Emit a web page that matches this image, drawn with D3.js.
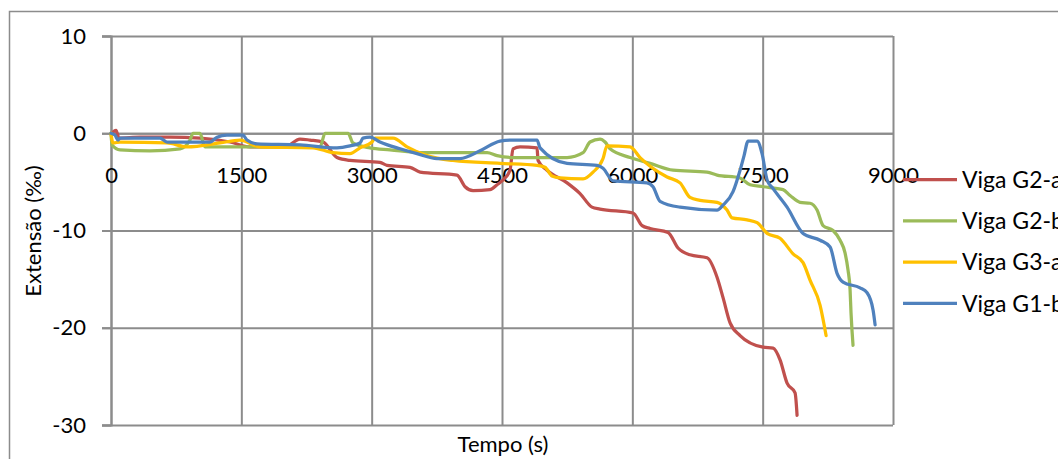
<!DOCTYPE html>
<html>
<head>
<meta charset="utf-8">
<script src="https://cdn.jsdelivr.net/npm/d3@7"></script>
<style>
  html, body { margin: 0; padding: 0; background: #fff; }
  svg { display: block; font-family: Lato, "Open Sans", sans-serif; }
</style>
</head>
<body>
<svg id="chart" width="1058" height="459"></svg>
<script>
// ---- Data (time in s, strain in ‰) ----
const seriesNames = ["Viga G2-a", "Viga G2-b", "Viga G3-a", "Viga G1-b"];
const seriesColors = ["#C0504D", "#9BBB59", "#FFC000", "#4F81BD"];

const xTicks = [0, 1500, 3000, 4500, 6000, 7500, 9000];
const yTicks = [-30, -20, -10, 0, 10];

const g2aTime = [0, 58, 92, 334, 679, 1024, 1370, 1600, 2003, 2175, 2290, 2440, 2601, 2751, 3096, 3177, 3441, 3557, 3982, 4075, 4167, 4362, 4443, 4512, 4592, 4627, 4708, 4903, 4915, 5018, 5249, 5398, 5536, 5628, 6008, 6112, 6204, 6411, 6526, 6664, 6860, 6975, 7044, 7125, 7240, 7504, 7620, 7700, 7781, 7873, 7896];
const g2aStrain = [-0.1, 0.3, -0.5, -0.4, -0.4, -0.5, -0.9, -1.4, -1.4, -0.6, -0.7, -0.9, -2.5, -2.8, -3.0, -3.3, -3.5, -4.0, -4.3, -5.5, -5.9, -5.8, -5.3, -4.8, -3.8, -1.6, -1.4, -1.5, -2.8, -3.8, -5.1, -6.2, -7.6, -7.8, -8.2, -9.5, -9.8, -10.2, -11.8, -12.5, -12.8, -14.8, -16.9, -19.5, -20.8, -22.0, -22.1, -23.3, -25.7, -26.7, -29.0];

const g2bTime = [0, 12, 104, 449, 794, 909, 944, 1024, 1082, 1485, 2406, 2463, 2728, 2785, 2981, 3211, 3591, 4098, 4328, 4443, 4627, 5249, 5433, 5513, 5628, 5686, 5744, 5974, 6204, 6469, 6860, 6975, 7240, 7355, 7505, 7735, 7815, 7930, 8045, 8126, 8195, 8310, 8391, 8448, 8483, 8506, 8517, 8540];
const g2bStrain = [0, -1.2, -1.7, -1.8, -1.6, -0.7, 0, 0, -1.4, -1.4, -1.4, 0, 0, -1.0, -1.5, -1.7, -2.0, -2.0, -2.0, -2.3, -2.5, -2.5, -2.0, -0.9, -0.6, -0.9, -1.6, -2.5, -3.1, -3.8, -4.0, -4.3, -4.6, -5.3, -5.5, -5.8, -6.4, -7.1, -7.2, -7.9, -9.5, -10.0, -11.0, -12.3, -14.1, -16.1, -18.5, -21.8];

const g3aTime = [0, 23, 104, 645, 875, 1255, 1485, 1715, 2325, 2555, 2751, 2866, 3004, 3039, 3246, 3407, 3637, 3936, 4477, 4903, 4995, 5076, 5168, 5433, 5548, 5663, 5709, 5974, 6089, 6400, 6549, 6664, 6779, 6975, 7090, 7148, 7321, 7436, 7551, 7700, 7850, 7965, 8045, 8161, 8230];
const g3aStrain = [0, -1.0, -0.9, -1.0, -1.4, -1.0, -0.7, -1.4, -1.5, -2.0, -2.1, -1.5, -0.9, -0.5, -0.5, -1.4, -2.3, -2.8, -3.1, -3.3, -3.5, -4.4, -4.6, -4.7, -4.0, -2.6, -1.3, -1.4, -2.5, -4.5, -5.1, -6.6, -6.9, -7.1, -7.9, -8.7, -8.9, -9.2, -10.3, -10.8, -12.4, -13.3, -15.1, -17.7, -20.8];

const g1bTime = [0, 46, 81, 104, 564, 645, 1140, 1220, 1335, 1519, 1565, 1680, 2175, 2601, 2751, 2866, 2900, 2981, 3096, 3326, 3522, 3752, 4017, 4247, 4477, 4592, 4903, 4938, 5249, 5594, 5663, 5778, 6169, 6238, 6319, 6549, 6975, 7044, 7159, 7240, 7286, 7332, 7436, 7493, 7551, 7620, 7781, 7965, 8161, 8276, 8356, 8425, 8621, 8702, 8771, 8794];
const g1bStrain = [0, -0.2, -0.7, -0.5, -0.5, -0.9, -0.9, -0.4, -0.2, -0.2, -0.7, -1.1, -1.2, -1.5, -1.3, -1.0, -0.5, -0.4, -0.9, -1.6, -2.1, -2.6, -2.6, -1.8, -0.8, -0.7, -0.7, -1.5, -3.1, -3.3, -3.6, -4.9, -5.1, -5.5, -7.0, -7.6, -7.9, -7.4, -6.0, -3.8, -2.3, -0.8, -0.8, -2.1, -4.8, -5.7, -7.6, -10.3, -11.0, -11.7, -14.4, -15.3, -15.9, -16.4, -18.2, -19.7];

const seriesTimes = [g2aTime, g2bTime, g3aTime, g1bTime];
const seriesStrains = [g2aStrain, g2bStrain, g3aStrain, g1bStrain];

// ---- Layout ----
const svg = d3.select("#chart");
const plotLeft = 111, plotRight = 893, plotTop = 36, plotBottom = 425;
const x = d3.scaleLinear().domain([0, 9000]).range([plotLeft, plotRight]);
const y = d3.scaleLinear().domain([-30, 10]).range([plotBottom, plotTop]);
const gridColor = "#8c8c8c";
const numFmt = d => String(d);

// outer chart border
svg.append("rect")
  .attr("x", 9.5).attr("y", 11.5)
  .attr("width", 1200).attr("height", 600)
  .attr("fill", "none").attr("stroke", "#8c8c8c").attr("stroke-width", 1.5);

// vertical gridlines
const vg = svg.append("g").attr("transform", `translate(0,${plotBottom})`)
  .call(d3.axisBottom(x).tickValues(xTicks).tickSize(-(plotBottom - plotTop)).tickFormat(""));
vg.select(".domain").remove();
vg.selectAll(".tick line").attr("stroke", gridColor).attr("stroke-width", 2);

// horizontal gridlines
const hg = svg.append("g").attr("transform", `translate(${plotRight},0)`)
  .call(d3.axisLeft(y).tickValues(yTicks).tickSize(plotRight - plotLeft + 9).tickFormat(""));
hg.select(".domain").remove();
hg.selectAll(".tick line").attr("stroke", gridColor).attr("stroke-width", 2);

// y axis labels
const ya = svg.append("g").attr("transform", `translate(${plotLeft},0)`)
  .call(d3.axisLeft(y).tickValues(yTicks).tickSize(9).tickPadding(16).tickFormat(numFmt));
ya.select(".domain").attr("stroke", gridColor).attr("stroke-width", 2);
ya.selectAll(".tick line").attr("stroke", gridColor).attr("stroke-width", 2);
ya.selectAll(".tick text").attr("font-size", 22).attr("fill", "#000")
  .attr("font-family", "Lato, sans-serif");

// x axis at y = 0
const xa = svg.append("g").attr("transform", `translate(0,${y(0)})`)
  .call(d3.axisBottom(x).tickValues(xTicks).tickSize(0).tickPadding(34).tickFormat(numFmt));
xa.select(".domain").attr("stroke", gridColor).attr("stroke-width", 2);
xa.selectAll(".tick text").attr("font-size", 22).attr("fill", "#000")
  .attr("font-family", "Lato, sans-serif");

// series lines
const line = d3.line()
  .x(d => x(d[0])).y(d => y(d[1]))
  .curve(d3.curveMonotoneX);

seriesNames.forEach((name, i) => {
  const pts = seriesTimes[i].map((t, k) => [t, seriesStrains[i][k]]);
  svg.append("path")
    .datum(pts)
    .attr("d", line)
    .attr("fill", "none")
    .attr("stroke", seriesColors[i])
    .attr("stroke-width", 3.25)
    .attr("stroke-linejoin", "round")
    .attr("stroke-linecap", "round");
});

// axis titles
svg.append("text")
  .attr("x", (plotLeft + plotRight) / 2 + 1).attr("y", 452)
  .attr("text-anchor", "middle")
  .attr("font-size", 22)
  .text("Tempo (s)");

svg.append("text")
  .attr("transform", `translate(41,231) rotate(-90)`)
  .attr("text-anchor", "middle")
  .attr("font-size", 22)
  .text("Extensão (‰)");

// legend
const legend = svg.append("g");
seriesNames.forEach((name, i) => {
  const ly = 179.5 + i * 41.3;
  legend.append("line")
    .attr("x1", 903).attr("x2", 957)
    .attr("y1", ly).attr("y2", ly)
    .attr("stroke", seriesColors[i]).attr("stroke-width", 3.25);
  legend.append("text")
    .attr("x", 962).attr("y", ly)
    .attr("dy", "0.36em")
    .attr("font-size", 23)
    .text(name);
});
</script>
</body>
</html>
